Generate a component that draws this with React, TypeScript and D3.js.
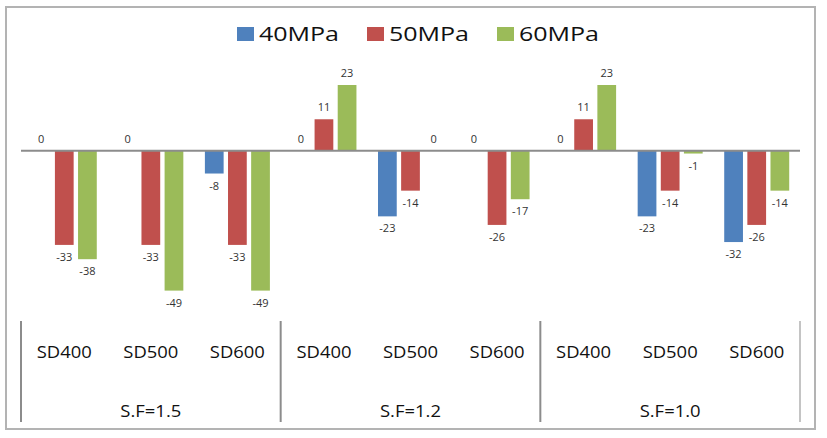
import React from "react";
import * as d3 from "d3";

const groups = ["S.F=1.5", "S.F=1.2", "S.F=1.0"];
const designs = ["SD400", "SD500", "SD600"];
const series = ["40MPa", "50MPa", "60MPa"];
const colors = ["#4F81BD", "#C0504D", "#9BBB59"];
// values per category (group x design), order SF1.5 SD400..SD600, SF1.2 ..., SF1.0 ...
const mpa40 = [0, 0, -8, 0, -23, 0, 0, -23, -32];
const mpa50 = [-33, -33, -33, 11, -14, -26, 11, -14, -26];
const mpa60 = [-38, -49, -49, 23, 0, -17, 23, -1, -14];
const seriesValues = [mpa40, mpa50, mpa60];

const W = 827;
const H = 438;
const FONT = "'Open Sans', 'DejaVu Sans', sans-serif";

export default function App() {
  const categories = groups.flatMap((g) => designs.map((d) => `${g}|${d}`));
  const x = d3.scaleBand<string>().domain(categories).range([21, 800]).padding(0);
  const x1 = d3
    .scaleBand<string>()
    .domain(series)
    .range([-32.5, 32.5])
    .paddingInner(0.19)
    .paddingOuter(0);
  const y = d3.scaleLinear().domain([-49, 23]).range([290.6, 85]);
  const groupX = d3.scaleBand<string>().domain(groups).range([21, 800]);

  const legendX = [237, 367, 497];

  return (
    <svg
      width={W}
      height={H}
      style={{ position: "absolute", left: 0, top: 0, background: "#fff" }}
      fontFamily={FONT}
    >
      <rect x={0} y={0} width={W} height={H} fill="#fff" />
      {/* outer frame */}
      <rect x={6} y={7} width={809} height={422} fill="none" stroke="#b3b3b3" strokeWidth={2} />

      {/* legend */}
      {series.map((s, i) => (
        <g key={s}>
          <rect x={legendX[i]} y={27} width={17} height={14} fill={colors[i]} />
          <text
            x={legendX[i] + 22}
            y={41}
            fontSize={20}
            fill="#111"
            textLength={80}
            lengthAdjust="spacingAndGlyphs"
          >
            {s}
          </text>
        </g>
      ))}

      {/* bars */}
      {seriesValues.map((vals, si) =>
        vals.map((v, ci) => {
          const cx = x(categories[ci])! + x.bandwidth() / 2 + x1(series[si])!;
          const bw = x1.bandwidth();
          const y0 = y(0);
          const yv = y(v);
          return (
            <rect
              key={`b${si}-${ci}`}
              x={cx}
              y={Math.min(y0, yv)}
              width={bw}
              height={Math.abs(yv - y0)}
              fill={colors[si]}
            />
          );
        })
      )}

      {/* zero axis */}
      <line x1={21} x2={800} y1={y(0)} y2={y(0)} stroke="#8c8c8c" strokeWidth={2} />

      {/* value labels */}
      {seriesValues.map((vals, si) =>
        vals.map((v, ci) => {
          const cx = x(categories[ci])! + x.bandwidth() / 2 + x1(series[si])! + x1.bandwidth() / 2;
          const ly = v >= 0 ? y(v) - 8 : y(v) + 16;
          return (
            <text
              key={`l${si}-${ci}`}
              x={cx}
              y={ly}
              fontSize={11}
              fill="#333"
              textAnchor="middle"
            >
              {v}
            </text>
          );
        })
      )}

      {/* bottom category axis */}
      {[0, 1, 2, 3].map((i) => {
        const lx = i < 3 ? groupX(groups[i])! : 800;
        return (
          <line
            key={`v${i}`}
            x1={lx}
            x2={lx}
            y1={321}
            y2={422}
            stroke={i < 3 ? "#8c8c8c" : "#c4c4c4"}
            strokeWidth={2}
          />
        );
      })}
      {categories.map((c, ci) => (
        <text
          key={`c${ci}`}
          x={x(c)! + x.bandwidth() / 2}
          y={358}
          fontSize={16}
          fill="#111"
          textAnchor="middle"
          textLength={55}
          lengthAdjust="spacingAndGlyphs"
        >
          {designs[ci % 3]}
        </text>
      ))}
      {groups.map((g) => (
        <text
          key={g}
          x={groupX(g)! + groupX.bandwidth() / 2}
          y={417}
          fontSize={17}
          fill="#111"
          textAnchor="middle"
          textLength={61}
          lengthAdjust="spacingAndGlyphs"
        >
          {g}
        </text>
      ))}
    </svg>
  );
}
